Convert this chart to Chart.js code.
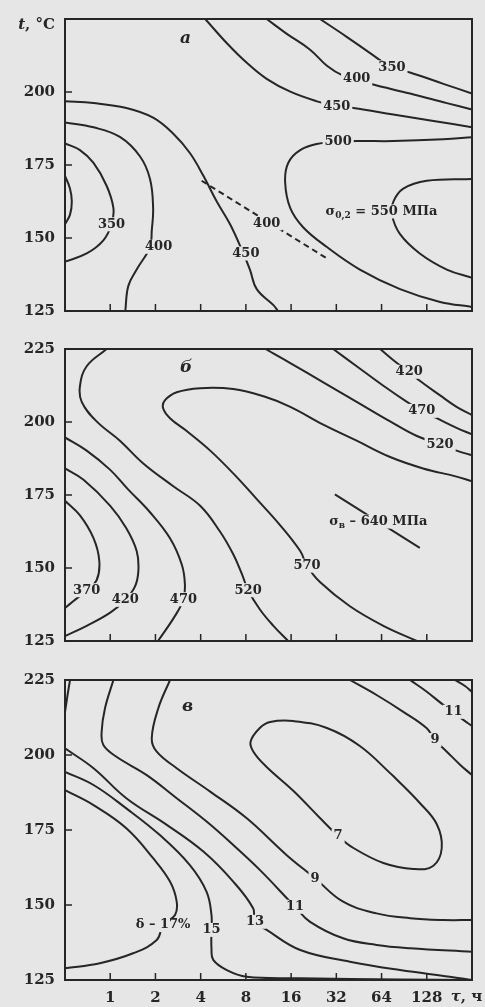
<!DOCTYPE html>
<html lang="ru">
<head>
<meta charset="utf-8">
<title>Карты свойств</title>
<script src="https://cdn.jsdelivr.net/npm/chart.js@4/dist/chart.umd.min.js"></script>
<style>
  html, body { margin: 0; padding: 0; background: #e6e6e6; }
  body { position: relative; width: 485px; height: 1007px; overflow: hidden; }
  canvas { position: absolute; left: 0; }
  #chartA { top: 0; }
  #chartB { top: 330px; }
  #chartC { top: 660px; }
</style>
</head>
<body>
<canvas id="chartA" width="485" height="330"></canvas>
<canvas id="chartB" width="485" height="330"></canvas>
<canvas id="chartC" width="485" height="347"></canvas>
<script>
// axes
const tauTicks = [1, 2, 4, 8, 16, 32, 64, 128];
const tempTicks = [125, 150, 175, 200, 225];

// а: sigma 0.2, MPa — points are [tau, h ; t, C]
const a350top = [[24.9, 225], [37.5, 218.9], [53.4, 213.4], [75, 208.4], [99, 206.7], [165, 202.8], [256, 199.5]];
const a400top = [[11.0, 225], [14.9, 220], [21.4, 214.5], [27.7, 209], [35.5, 205.6], [43.7, 204.5], [53.8, 202.8], [99, 199.5], [174, 196.2], [256, 194]];
const a450top = [[4.29, 225], [5.98, 216.7], [8.11, 210], [11.0, 204.5], [15.8, 200.1], [23.8, 196.8], [32.2, 195.1], [41.6, 194.5], [76.6, 192.3], [142, 190.1], [256, 187.9]];
const a500 = [[256, 184.5], [165, 183.8], [76.6, 183.2], [43.7, 183.2], [32.9, 182.9], [24.9, 182.4], [18.4, 180.1], [15.3, 175.7], [14.6, 169.1], [15.8, 160.2], [19.3, 153.6], [27.7, 146.9], [45.9, 139.2], [85, 132.5], [157, 128.1], [256, 126.4]];
const a550 = [[256, 170.2], [128, 169.6], [89.3, 166.9], [76.6, 162.4], [75, 158], [85, 151.3], [115, 144.7], [174, 139.2], [256, 136.4]];
const aDash = [[4.06, 169.6], [27.7, 143]];
const a450mid = [[0.5, 196.8], [0.774, 196.2], [1.28, 194.5], [1.93, 191.2], [2.63, 185.7], [3.39, 179.1], [4.17, 171.3], [5.13, 162.4], [6.28, 154.7], [7.7, 144.7], [8.51, 139.2], [9.45, 132.5], [12.2, 127], [13.1, 125]];
const a400left = [[0.5, 189.6], [0.774, 187.9], [1.16, 184.6], [1.58, 177.9], [1.84, 170.2], [1.93, 160.2], [1.89, 152.5], [1.84, 146.9], [1.50, 139.2], [1.32, 133.6], [1.26, 125]];
const a350left = [[0.5, 182.4], [0.629, 180.1], [0.774, 175.7], [0.946, 167.9], [1.05, 160.2], [1.02, 154.7], [0.90, 149.2], [0.697, 144.7], [0.5, 141.9]];
const aArc = [[0.5, 171.3], [0.54, 166.9], [0.555, 162.5], [0.54, 158], [0.5, 154.7]];
const aLabels = [
  [75, 208.4, "350"], [43.7, 204.5, "400"], [32.2, 195.1, "450"], [32.9, 182.9, "500"],
  [11.0, 155, "400"], [8.0, 144.7, "450"], [2.1, 147, "400"], [1.02, 154.7, "350"],
  [64, 159.1, "σ", "0,2", " = 550 МПа"]
];

// б: sigma B, MPa
const b420top = [[62.6, 225], [81, 220.2], [97.7, 217.2], [115, 214.1], [157, 209.1], [202, 205.2], [256, 202.4]];
const b470top = [[30.5, 225], [43.7, 219.1], [65.8, 212.4], [94.4, 206.9], [118.6, 203.8], [149, 201.3], [202, 198], [256, 195.8]];
const b520top = [[10.8, 225], [15.8, 220.2], [26.2, 213.6], [43.7, 206.9], [73, 200.2], [110, 195.2], [157, 192.4], [202, 190.2], [256, 188.6]];
const b570 = [[256, 179.7], [202, 181.3], [121, 184.1], [73, 188], [43.7, 193.6], [26.2, 199.1], [15.8, 205.2], [10.5, 208.8], [6.59, 211.3], [3.97, 211.6], [2.77, 210.2], [2.31, 207.4], [2.25, 204.7], [2.50, 201.3], [3.23, 196.9], [4.63, 190.2], [6.59, 182.4], [9.45, 173.6], [13.5, 164.7], [18.4, 155.8], [20.4, 150.8], [24.9, 145.2], [39.4, 136.9], [65.8, 130.2], [110, 125]];
const b640 = [[31.3, 175.2], [115, 156.9]];
const b520left = [[0.946, 225], [0.697, 219.1], [0.629, 212.4], [0.646, 206.9], [0.812, 200.2], [1.16, 193.6], [1.66, 185.8], [2.63, 178], [3.97, 171.3], [5.39, 162.4], [6.59, 154.7], [7.52, 148], [8.28, 142.4], [9.92, 135.8], [12.2, 130.2], [15.3, 125]];
const b470left = [[0.5, 194.7], [0.697, 190.2], [1.0, 183.6], [1.31, 177], [1.84, 169.1], [2.50, 160.2], [2.99, 151.3], [3.14, 144.7], [3.07, 139.3], [2.70, 133.6], [2.08, 125]];
const b420left = [[0.5, 184.1], [0.664, 180.2], [1.0, 171.3], [1.28, 163.6], [1.50, 155.8], [1.54, 149.1], [1.46, 143.6], [1.26, 139.1], [1.0, 134.7], [0.697, 130.2], [0.5, 126.7]];
const b370 = [[0.5, 173], [0.629, 168], [0.774, 160.2], [0.846, 152.4], [0.812, 145.8], [0.697, 142.4], [0.567, 138.6], [0.5, 136.3]];
const bLabels = [
  [97.7, 217.2, "420"], [118.6, 203.8, "470"], [157, 192.4, "520"], [20.4, 150.8, "570"],
  [8.28, 142.4, "520"], [3.07, 139.3, "470"], [1.26, 139.1, "420"], [0.697, 142.4, "370"],
  [60.9, 165.9, "σ", "в", " – 640 МПа"]
];

// в: elongation, %
const cCorner = [[0.54, 225], [0.52, 220], [0.5, 214.3]];
const c11 = [[1.05, 225], [0.923, 215.6], [0.877, 207.8], [0.90, 203.3], [1.10, 199.4], [1.75, 193.3], [2.77, 185.6], [4.38, 177.8], [6.59, 170], [9.9, 161.7], [17.0, 149.4], [21.4, 144.4], [35.5, 138.9], [59.3, 136.7], [99.1, 135.6], [256, 134.4]];
const c9 = [[2.50, 225], [2.09, 215.6], [1.89, 205.6], [2.04, 201.1], [2.77, 195.6], [4.63, 187.8], [8.11, 178.9], [14.9, 166.7], [23.1, 158.9], [35.5, 151.1], [59.3, 147.2], [99.1, 145.6], [165, 145], [256, 145]];
const c13 = [[0.5, 202.2], [0.774, 195.6], [1.28, 185.6], [2.38, 176.7], [4.17, 167.8], [6.59, 157.8], [8.94, 148.9], [9.19, 144.4], [11.0, 141.7], [18.4, 135], [39.4, 131.1], [85, 128.3], [182, 126.1], [256, 125]];
const c15 = [[0.5, 194.4], [0.774, 190], [1.28, 182.2], [2.14, 173.3], [3.39, 163.3], [4.38, 154.4], [4.72, 146.7], [4.72, 141.7], [4.72, 135.6], [4.85, 131.7], [5.97, 128.3], [8.1, 126.1], [18.4, 125.6], [85, 125.2], [256, 125]];
const c17 = [[0.5, 188.3], [0.774, 183.3], [1.28, 175.6], [1.93, 165.6], [2.50, 157.8], [2.77, 151.1], [2.70, 146.7], [2.25, 143.3], [2.04, 138.3], [1.42, 133.9], [0.853, 130.6], [0.5, 128.9]];
const c7 = [[76.6, 193], [115, 184], [149, 177], [161, 169], [141, 163], [104, 162], [65.8, 164], [41.6, 169], [32.9, 173], [24.9, 179], [16.6, 188], [11.0, 196], [9.0, 201], [8.6, 204.5], [9.9, 209], [11.6, 211], [16.6, 211.3], [27.7, 209], [45.9, 203], [76.6, 193]];
const c9top = [[39.4, 225], [59.3, 220], [89.3, 214.4], [128, 208.9], [145, 205], [174, 201.1], [214, 196.7], [256, 193.3]];
const c11top = [[99, 225], [128, 221.1], [165, 216.7], [193, 214.4], [224, 211.7], [256, 209.7]];
const cCornerTR = [[197, 225], [230, 223], [256, 221]];
const cLabels = [
  [32.9, 173, "7"], [23.1, 158.9, "9"], [17.0, 149.4, "11"], [9.19, 144.4, "13"],
  [4.72, 141.7, "15"], [145, 205, "9"], [193, 214.4, "11"],
  [2.25, 143.3, "δ – 17%"]
];

const INK = "#262626";
const BG = "#e6e6e6";
const FAMILY = "'DejaVu Serif', serif";

function contour(points, dashed) {
  return {
    data: points.map(p => ({ x: p[0], y: p[1] })),
    borderColor: INK,
    borderWidth: 2,
    pointRadius: 0,
    fill: false,
    tension: dashed ? 0 : 0.4,
    borderDash: dashed ? [6, 4] : []
  };
}

function drawLabel(ctx, cx, cy, l) {
  const main = "bold 13px " + FAMILY;
  const small = "bold 9px " + FAMILY;
  ctx.font = main;
  const w1 = ctx.measureText(l[2]).width;
  const w3 = l[4] ? ctx.measureText(l[4]).width : 0;
  ctx.font = small;
  const w2 = l[3] ? ctx.measureText(l[3]).width : 0;
  const w = w1 + w2 + w3;
  const sx = cx - w / 2;
  ctx.fillStyle = BG;
  ctx.fillRect(sx - 2, cy - 7, w + 4, 14);
  ctx.fillStyle = INK;
  ctx.textAlign = "left";
  ctx.textBaseline = "middle";
  ctx.font = main;
  ctx.fillText(l[2], sx, cy);
  if (l[3]) {
    ctx.font = small;
    ctx.fillText(l[3], sx + w1, cy + 4);
    ctx.font = main;
    ctx.fillText(l[4], sx + w1 + w2, cy);
  }
}

// labels on the curves, frame, inward ticks and axis titles
const frame = {
  id: "frame",
  afterDatasetsDraw(chart, args, o) {
    const { ctx, chartArea: a, scales: { x, y } } = chart;
    ctx.save();
    o.labels.forEach(l => drawLabel(ctx, x.getPixelForValue(l[0]), y.getPixelForValue(l[1]), l));

    ctx.strokeStyle = INK;
    ctx.lineWidth = 2;
    ctx.strokeRect(a.left, a.top, a.width, a.height);
    ctx.lineWidth = 1.5;
    ctx.beginPath();
    tauTicks.forEach(v => {
      const px = x.getPixelForValue(v);
      ctx.moveTo(px, a.bottom);
      ctx.lineTo(px, a.bottom - 7);
    });
    tempTicks.forEach(v => {
      const py = y.getPixelForValue(v);
      ctx.moveTo(a.left, py);
      ctx.lineTo(a.left + 7, py);
    });
    ctx.stroke();

    ctx.fillStyle = INK;
    ctx.textBaseline = "middle";
    ctx.textAlign = "left";
    ctx.font = "italic bold 17px " + FAMILY;
    ctx.fillText(o.letter[2], x.getPixelForValue(o.letter[0]), y.getPixelForValue(o.letter[1]));

    if (o.tempTitle) {
      const ty = y.getPixelForValue(225) + 6;
      ctx.font = "bold 15px " + FAMILY;
      ctx.textAlign = "right";
      const rest = ", °C";
      const rw = ctx.measureText(rest).width;
      ctx.fillText(rest, a.left - 10, ty);
      ctx.font = "italic bold 15px " + FAMILY;
      ctx.fillText("t", a.left - 10 - rw, ty);
    }
    if (o.tauTitle) {
      const tx = x.getPixelForValue(128) + 24;
      const ty = a.bottom + 17;
      ctx.textAlign = "left";
      ctx.font = "italic bold 15px " + FAMILY;
      ctx.fillText("τ", tx, ty);
      const tw = ctx.measureText("τ").width;
      ctx.font = "bold 15px " + FAMILY;
      ctx.fillText(", ч", tx + tw, ty);
    }
    ctx.restore();
  }
};

function makePanel(id, lines, labels, o) {
  new Chart(document.getElementById(id), {
    type: "line",
    data: { datasets: lines },
    options: {
      responsive: false,
      animation: false,
      events: [],
      layout: { padding: { top: o.top, right: 13, left: 0, bottom: 0 } },
      plugins: {
        legend: { display: false },
        tooltip: { enabled: false },
        frame: { labels: labels, letter: o.letter, tempTitle: o.tempTitle, tauTitle: o.tauTitle }
      },
      scales: {
        x: {
          type: "logarithmic",
          min: 0.5,
          max: 256,
          afterBuildTicks: s => { s.ticks = tauTicks.map(v => ({ value: v })); },
          afterFit: s => { s.height = o.xHeight; },
          grid: { display: false, drawTicks: false },
          border: { display: false },
          ticks: {
            display: !!o.tauTitle,
            autoSkip: false,
            maxRotation: 0,
            padding: 9,
            color: INK,
            font: { family: FAMILY, size: 15, weight: "bold" },
            callback: v => String(v)
          }
        },
        y: {
          type: "linear",
          min: 125,
          max: 225,
          afterBuildTicks: s => { s.ticks = tempTicks.map(v => ({ value: v })); },
          afterFit: s => { s.width = 65; },
          grid: { display: false, drawTicks: false },
          border: { display: false },
          ticks: {
            padding: 10,
            color: INK,
            font: { family: FAMILY, size: 15, weight: "bold" },
            callback: v => (o.tempTitle && v === 225) ? "" : String(v)
          }
        }
      }
    },
    plugins: [frame]
  });
}

makePanel("chartA",
  [contour(a350top), contour(a400top), contour(a450top), contour(a500), contour(a550),
   contour(aDash, true), contour(a450mid), contour(a400left), contour(a350left), contour(aArc)],
  aLabels,
  { top: 15, xHeight: 14, letter: [2.91, 218.4, "а"], tempTitle: true });

makePanel("chartB",
  [contour(b420top), contour(b470top), contour(b520top), contour(b570), contour(b640),
   contour(b520left), contour(b470left), contour(b420left), contour(b370)],
  bLabels,
  { top: 19, xHeight: 11, letter: [2.91, 218.6, "б"] });

makePanel("chartC",
  [contour(cCorner), contour(c11), contour(c9), contour(c13), contour(c15), contour(c17),
   contour(c7), contour(c9top), contour(c11top), contour(cCornerTR)],
  cLabels,
  { top: 20, xHeight: 27, letter: [3.0, 216, "в"], tauTitle: true });
</script>
</body>
</html>
